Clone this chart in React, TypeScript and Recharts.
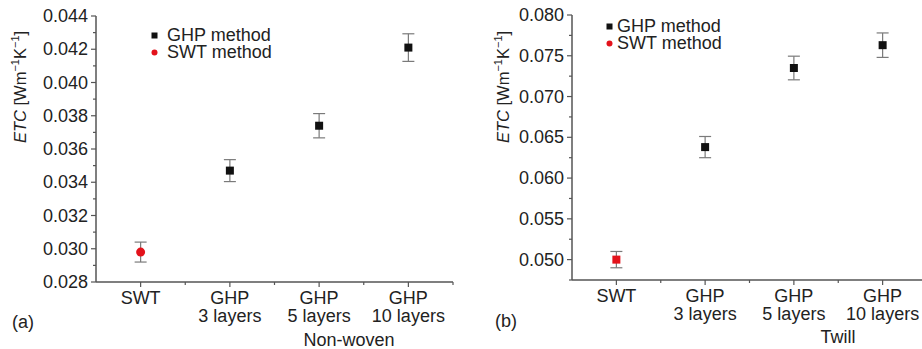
import React from 'react';
import { ComposedChart, Scatter, XAxis, YAxis, ErrorBar } from 'recharts';

// categories (\n splits the tick label into two lines)
const CATEGORIES = ['SWT', 'GHP\n3 layers', 'GHP\n5 layers', 'GHP\n10 layers'];
const SERIES = [
    { name: 'GHP method', color: '#111', icon: 'square' },
    { name: 'SWT method', color: '#e3121b', icon: 'circle' },
];

// (a) non-woven
const NONWOVEN_GHP = [null, 0.0347, 0.0374, 0.0421];
const NONWOVEN_GHP_ERR = [null, 0.00066, 0.00073, 0.00083];
const NONWOVEN_SWT = [0.0298, null, null, null];
const NONWOVEN_SWT_ERR = [0.0006, null, null, null];
const NONWOVEN_TICKS = [0.028, 0.03, 0.032, 0.034, 0.036, 0.038, 0.04, 0.042, 0.044];
const NONWOVEN_MINOR = [0.029, 0.031, 0.033, 0.035, 0.037, 0.039, 0.041, 0.043];

// (b) twill
const TWILL_GHP = [null, 0.0638, 0.0735, 0.0763];
const TWILL_GHP_ERR = [null, 0.0013, 0.00145, 0.0015];
const TWILL_SWT = [0.05, null, null, null];
const TWILL_SWT_ERR = [0.001, null, null, null];
const TWILL_TICKS = [0.05, 0.055, 0.06, 0.065, 0.07, 0.075, 0.08];
const TWILL_MINOR = [0.0475, 0.0525, 0.0575, 0.0625, 0.0675, 0.0725, 0.0775];

const AXIS = '#555';
const TEXT = '#222';
const FONT = '"Liberation Sans", Arial, sans-serif';
const W = 460;
const H = 349;
const Y_W = 96;

const buildRows = (ghp, ghpErr, swt, swtErr) =>
    CATEGORIES.map((cat, i) => ({ cat, ghp: ghp[i], ghpErr: ghpErr[i], swt: swt[i], swtErr: swtErr[i] }));

const squareShape = (key, color, s) => (props) => {
    const { cx, cy, payload } = props;
    if (payload == null || payload[key] == null || !isFinite(cy)) return <g />;
    return <rect x={cx - s / 2} y={cy - s / 2} width={s} height={s} fill={color} />;
};

const circleShape = (key, color, r) => (props) => {
    const { cx, cy, payload } = props;
    if (payload == null || payload[key] == null || !isFinite(cy)) return <g />;
    return <circle cx={cx} cy={cy} r={r} fill={color} />;
};

function YTick({ y, payload, minor }) {
    const isMinor = minor.includes(payload.value);
    return (
        <g>
            <line x1={Y_W} x2={Y_W - (isMinor ? 3 : 5)} y1={y} y2={y} stroke={AXIS} strokeWidth={1.2} />
            {!isMinor && (
                <text x={Y_W - 8} y={y} dy={6} textAnchor="end" fontSize={18} fill={TEXT} fontFamily={FONT}>
                    {payload.value.toFixed(3)}
                </text>
            )}
        </g>
    );
}

function XTick({ x, payload, axisY, band }) {
    const lines = String(payload.value).split('\n');
    return (
        <g>
            <line x1={x} x2={x} y1={axisY} y2={axisY + 5} stroke={AXIS} strokeWidth={1.2} />
            <line x1={x + band / 2} x2={x + band / 2} y1={axisY} y2={axisY + 3} stroke={AXIS} strokeWidth={1.2} />
            <text x={x} y={axisY + 22} textAnchor="middle" fontSize={18} fill={TEXT} fontFamily={FONT}>
                {lines.map((l, i) => (
                    <tspan key={i} x={x} dy={i === 0 ? 0 : 18}>{l}</tspan>
                ))}
            </text>
        </g>
    );
}

function YTitle({ x, cy }) {
    return (
        <text x={x} y={cy} transform={`rotate(-90, ${x}, ${cy})`} textAnchor="middle" dy={6}
            fontSize={16.5} fill={TEXT} fontFamily={FONT}>
            <tspan fontStyle="italic">ETC</tspan>
            <tspan> [Wm</tspan>
            <tspan dy={-7} fontSize={11}>−1</tspan>
            <tspan dy={7}>K</tspan>
            <tspan dy={-7} fontSize={11}>−1</tspan>
            <tspan dy={7}>]</tspan>
        </text>
    );
}

function LegendBox({ left, top, gap }) {
    return (
        <div style={{ position: 'absolute', left, top, fontFamily: FONT, fontSize: 18, color: TEXT, lineHeight: '17px', whiteSpace: 'nowrap' }}>
            {SERIES.map((p) => (
                <div key={p.name} style={{ display: 'flex', alignItems: 'center', height: 17 }}>
                    <svg width={7} height={7} style={{ marginRight: gap }}>
                        {p.icon === 'circle'
                            ? <circle cx={3.5} cy={3.5} r={3} fill={p.color} />
                            : <rect x={0.5} y={0.5} width={6} height={6} fill={p.color} />}
                    </svg>
                    <span>{p.name}</span>
                </div>
            ))}
        </div>
    );
}

function Panel({ rows, ticks, minor, domain, top, bottomY, right, titleX, swtSquare }) {
    const xh = H - bottomY;
    const band = (W - Y_W - right) / CATEGORIES.length;
    const [ghp, swt] = SERIES;
    return (
        <ComposedChart width={W} height={H} data={rows} margin={{ top, right, bottom: 0, left: 0 }}>
            <XAxis
                dataKey="cat"
                type="category"
                scale="band"
                height={xh}
                interval={0}
                axisLine={{ stroke: AXIS, strokeWidth: 1.5 }}
                tickLine={false}
                tick={<XTick axisY={bottomY} band={band} />}
            />
            <YAxis
                width={Y_W}
                domain={domain}
                ticks={[...ticks, ...minor].sort((a, b) => a - b)}
                interval={0}
                allowDataOverflow
                axisLine={{ stroke: AXIS, strokeWidth: 1.5 }}
                tickLine={false}
                tick={<YTick minor={minor} />}
                label={{ content: () => <YTitle x={titleX} cy={87} /> }}
            />
            <Scatter
                name={ghp.name}
                dataKey="ghp"
                fill={ghp.color}
                isAnimationActive={false}
                shape={squareShape('ghp', ghp.color, 8)}
            >
                <ErrorBar dataKey="ghpErr" direction="y" width={6} stroke="#7a7a7a" strokeWidth={1.2} />
            </Scatter>
            <Scatter
                name={swt.name}
                dataKey="swt"
                fill={swt.color}
                isAnimationActive={false}
                shape={swtSquare ? squareShape('swt', swt.color, 8) : circleShape('swt', swt.color, 4.5)}
            >
                <ErrorBar dataKey="swtErr" direction="y" width={6} stroke="#7a7a7a" strokeWidth={1.2} />
            </Scatter>
        </ComposedChart>
    );
}

const note = (text, left, top, extra = {}) => (
    <div style={{ position: 'absolute', left, top, fontFamily: FONT, fontSize: 18, color: TEXT, lineHeight: '18px', whiteSpace: 'nowrap', ...extra }}>
        {text}
    </div>
);

export default function App() {
    const nonwoven = buildRows(NONWOVEN_GHP, NONWOVEN_GHP_ERR, NONWOVEN_SWT, NONWOVEN_SWT_ERR);
    const twill = buildRows(TWILL_GHP, TWILL_GHP_ERR, TWILL_SWT, TWILL_SWT_ERR);
    return (
        <div style={{ position: 'fixed', left: 0, top: 0, width: 922, height: 349, overflow: 'hidden', background: '#fff' }}>
            <div style={{ position: 'absolute', left: 0, top: 0 }}>
                <Panel rows={nonwoven} ticks={NONWOVEN_TICKS} minor={NONWOVEN_MINOR} domain={[0.028, 0.044]}
                    top={16} bottomY={282} right={7} titleX={20} swtSquare={false} />
            </div>
            <div style={{ position: 'absolute', left: 476, top: 0 }}>
                <Panel rows={twill} ticks={TWILL_TICKS} minor={TWILL_MINOR} domain={[0.0475, 0.08]}
                    top={15} bottomY={280} right={9} titleX={27} swtSquare />
            </div>
            <LegendBox left={151} top={27} gap={9} />
            <LegendBox left={606} top={18} gap={4} />
            {note('(a)', 12, 313)}
            {note('Non-woven', 349, 331, { transform: 'translateX(-50%)' })}
            {note('(b)', 495, 312)}
            {note('Twill', 838, 328, { transform: 'translateX(-50%)' })}
        </div>
    );
}
